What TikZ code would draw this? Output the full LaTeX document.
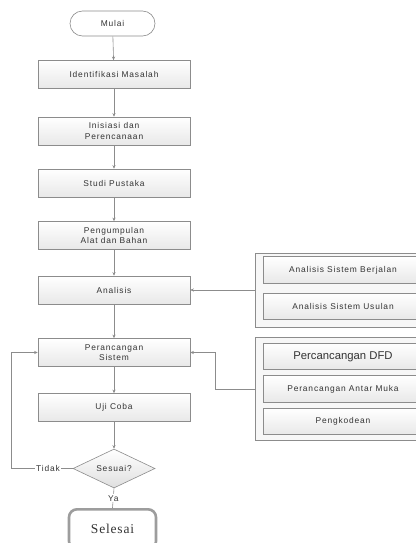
\documentclass[tikz,border=0pt]{standalone}
\usepackage{fontspec}
\setmainfont{Liberation Sans}
\newfontfamily\endfont{Liberation Serif}
\usetikzlibrary{shapes.geometric,arrows.meta}
\definecolor{edge}{HTML}{8C8C8C}
\definecolor{ink}{HTML}{333333}
\begin{document}
\begin{tikzpicture}[x=1pt,y=-1pt,
  txt/.style={text=ink, font=\fontsize{8.4}{10.5}\selectfont\addfontfeature{LetterSpace=10}},
  box/.style={txt, draw=edge, line width=0.6pt, top color=white, bottom color=gray!18,
    minimum width=152pt, minimum height=28pt, align=center, inner sep=1pt},
  term/.style={txt, draw=edge, line width=0.6pt, fill=white, rounded corners=12.5pt,
    minimum width=85pt, minimum height=25pt},
  sidebox/.style={box, minimum width=160pt, minimum height=26.5pt},
  group/.style={draw=edge, line width=0.6pt, fill=gray!6},
  dec/.style={txt, draw=edge, line width=0.6pt, diamond, aspect=2.1, top color=white,
    bottom color=gray!25, minimum width=82pt, minimum height=39pt, inner sep=0pt},
  flow/.style={draw=edge, line width=0.6pt, -{Stealth[length=3.6pt,width=3.2pt]}},
  plain/.style={draw=edge, line width=0.6pt}]
\useasboundingbox (0,0) rectangle (415,543);

% main column
\node[term] (mulai) at (112.5,23.5) {Mulai};
\node[box] (ident) at (114,74.5) {Identifikasi Masalah};
\node[box] (inis) at (114,131) {Inisiasi dan\\Perencanaan};
\node[box] (studi) at (114,183) {Studi Pustaka};
\node[box] (kumpul) at (114,235.5) {Pengumpulan\\Alat dan Bahan};
\node[box] (anal) at (114,290) {Analisis};
\node[box] (rancang) at (114,352.5) {Perancangan\\Sistem};
\node[box] (uji) at (114,407.5) {Uji Coba};
\node[dec] (sesuai) at (114,468.5) {Sesuai?};
\node[draw=edge!85, line width=2.6pt, fill=white, rounded corners=8pt,
  minimum width=87pt, minimum height=40pt, anchor=north] (selesai) at (112.5,508)
  {\endfont\fontsize{13.5}{15}\selectfont\addfontfeature{LetterSpace=6}\color{ink}Selesai};

% analysis group
\draw[group] (255,253) rectangle (420,327);
\coordinate (gA) at (255,290);
\node[sidebox] (jalan) at (343,270) {Analisis Sistem Berjalan};
\node[sidebox] (usul) at (343,306.5) {Analisis Sistem Usulan};

% design group
\draw[group] (255,337) rectangle (420,440);
\coordinate (gD) at (255,389);
\node[sidebox, font=\fontsize{11.3}{13}\selectfont] (dfd) at (343,356.5) {Percancangan DFD};
\node[sidebox] (muka) at (343,389) {Perancangan Antar Muka};
\node[sidebox] (kode) at (343,421.5) {Pengkodean};

% connectors
\draw[flow] (mulai) -- (ident);
\draw[flow] (ident) -- (inis);
\draw[flow] (inis) -- (studi);
\draw[flow] (studi) -- (kumpul);
\draw[flow] (kumpul) -- (anal);
\draw[flow] (anal) -- (rancang);
\draw[flow] (rancang) -- (uji);
\draw[flow] (uji) -- (sesuai);
\draw[flow] (gA) -- (anal.east);
\draw[flow] (gD) -- (215,389) |- (rancang.east);
\draw[flow] (sesuai.west) -- node[fill=white, txt, inner sep=1pt, pos=0.4] {Tidak} (11,468.5) |- (rancang.west);
\draw[plain] (sesuai.south) -- node[fill=white, txt, inner sep=1pt, pos=0.5] {Ya} (selesai.north);
\end{tikzpicture}
\end{document}
